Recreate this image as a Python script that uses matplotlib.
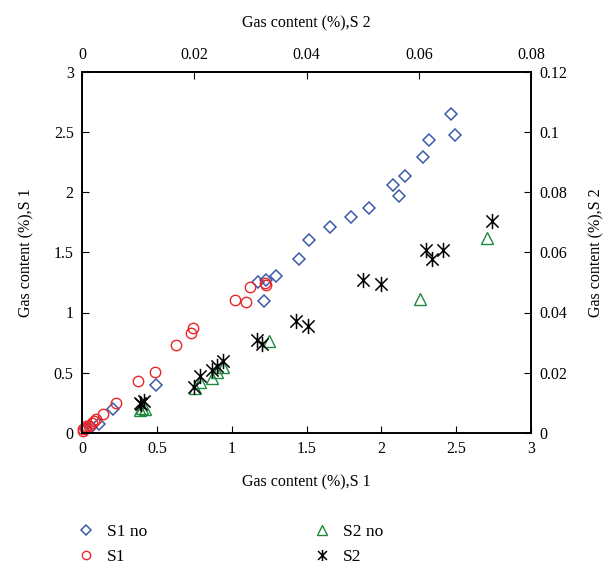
import matplotlib
matplotlib.use("Agg")
import matplotlib.pyplot as plt
from matplotlib.lines import Line2D
from matplotlib.path import Path

plt.rcParams["font.family"] = ["Liberation Serif", "DejaVu Serif"]
plt.rcParams["font.size"] = 11.5

# S1 series (bottom / left axes)
s1no_x = [0.03, 0.06, 0.116, 0.21, 0.496, 1.174, 1.232, 1.219, 1.293, 1.447, 1.52,
          1.66, 1.795, 1.92, 2.08, 2.12, 2.16, 2.28, 2.32, 2.465, 2.49]
s1no_y = [0.03, 0.05, 0.077, 0.20, 0.40, 1.25, 1.27, 1.094, 1.30, 1.44, 1.60,
          1.71, 1.79, 1.87, 2.06, 1.97, 2.135, 2.29, 2.43, 2.65, 2.47]

s1_x = [0.005, 0.01, 0.02, 0.03, 0.045, 0.065, 0.08, 0.094, 0.139, 0.228, 0.373,
        0.489, 0.63, 0.728, 0.741, 1.025, 1.096, 1.12, 1.226, 1.232]
s1_y = [0.03, 0.02, 0.04, 0.058, 0.06, 0.085, 0.10, 0.113, 0.16, 0.25, 0.43,
        0.51, 0.73, 0.83, 0.87, 1.10, 1.088, 1.215, 1.245, 1.23]

# S2 series (top / right axes)
s2no_x = [0.0103, 0.0113, 0.0107, 0.0202, 0.0211, 0.0231, 0.0240, 0.0251, 0.0333, 0.0603, 0.0722]
s2no_y = [0.0078, 0.0080, 0.0084, 0.0148, 0.0168, 0.0184, 0.0202, 0.0220, 0.0304, 0.0444, 0.0648]

s2_x = [0.0103, 0.0111, 0.0106, 0.0200, 0.0211, 0.0231, 0.0240, 0.0251, 0.0312, 0.0320,
        0.0382, 0.0403, 0.0501, 0.0533, 0.0613, 0.0624, 0.0644, 0.0731]
s2_y = [0.0100, 0.0106, 0.0096, 0.0152, 0.0188, 0.0208, 0.0224, 0.0240, 0.0310, 0.0296,
        0.0371, 0.0356, 0.0508, 0.0496, 0.0608, 0.0576, 0.0608, 0.0704]

blue = "#3a5bab"
red = "#e8262b"
green = "#1e8a3e"

# asterisk: vertical bar plus an X
star = Path([(0, -1), (0, 1), (-0.8, -0.8), (0.8, 0.8), (-0.8, 0.8), (0.8, -0.8)],
            [Path.MOVETO, Path.LINETO, Path.MOVETO, Path.LINETO, Path.MOVETO, Path.LINETO])

fig = plt.figure(figsize=(6.1, 5.67), dpi=100)
rect = [82 / 610, 1 - 433 / 567, (531 - 82) / 610, (433 - 71.5) / 567]
ax = fig.add_axes(rect)
ax2 = fig.add_axes(rect, frameon=False)

ax.plot(s1no_x, s1no_y, "D", ms=6.5, mfc="none", mec=blue, mew=1.1, clip_on=False)
ax.plot(s1_x, s1_y, "o", ms=7.5, mfc="none", mec=red, mew=1.0, clip_on=False)
ax2.plot(s2no_x, s2no_y, "^", ms=8.5, mfc="none", mec=green, mew=1.0, clip_on=False)
ax2.plot(s2_x, s2_y, marker=star, ls="none", ms=11, mfc="none", mec="black", mew=1.1, clip_on=False)

ax.set_xlim(0, 3)
ax.set_ylim(0, 3)
ax.set_xticks([0, 0.5, 1, 1.5, 2, 2.5, 3])
ax.set_xticklabels(["0", "0.5", "1", "1.5", "2", "2.5", "3"])
ax.set_yticks([0, 0.5, 1, 1.5, 2, 2.5, 3])
ax.set_yticklabels(["0", "0.5", "1", "1.5", "2", "2.5", "3"])
ax.set_xlabel("Gas content (%),S 1", labelpad=12)
ax.set_ylabel("Gas content (%),S 1", labelpad=14)

ax2.set_xlim(0, 0.08)
ax2.set_ylim(0, 0.12)
ax2.xaxis.set_ticks_position("top")
ax2.xaxis.set_label_position("top")
ax2.yaxis.set_ticks_position("right")
ax2.yaxis.set_label_position("right")
ax2.set_xticks([0, 0.02, 0.04, 0.06, 0.08])
ax2.set_xticklabels(["0", "0.02", "0.04", "0.06", "0.08"])
ax2.set_yticks([0, 0.02, 0.04, 0.06, 0.08, 0.1, 0.12])
ax2.set_yticklabels(["0", "0.02", "0.04", "0.06", "0.08", "0.1", "0.12"])
ax2.set_xlabel("Gas content (%),S 2", labelpad=14)
ax2.set_ylabel("Gas content (%),S 2", labelpad=15)

for sp in ax.spines.values():
    sp.set_linewidth(1.4)
ax.tick_params(direction="in", length=5, width=0.8, pad=6)
ax2.tick_params(direction="in", length=5, width=0.8, pad=6)

handles = [
    Line2D([], [], ls="none", marker="D", ms=5, mfc="none", mec=blue, mew=1.1),
    Line2D([], [], ls="none", marker="o", ms=6, mfc="none", mec=red, mew=1.0),
    Line2D([], [], ls="none", marker="^", ms=7, mfc="none", mec=green, mew=1.0),
    Line2D([], [], ls="none", marker=star, ms=8, mfc="none", mec="black", mew=1.1),
]
labels = ["S1 no", "S1", "S2 no", "S2"]
fig.legend(handles, labels, ncol=2, frameon=False, loc="upper left",
           bbox_to_anchor=(60 / 610, 1 - 508 / 567), columnspacing=9.5,
           handlelength=1.2, handletextpad=0.6, labelspacing=0.5, fontsize=12.5)

fig.savefig("out.png", dpi=100)
